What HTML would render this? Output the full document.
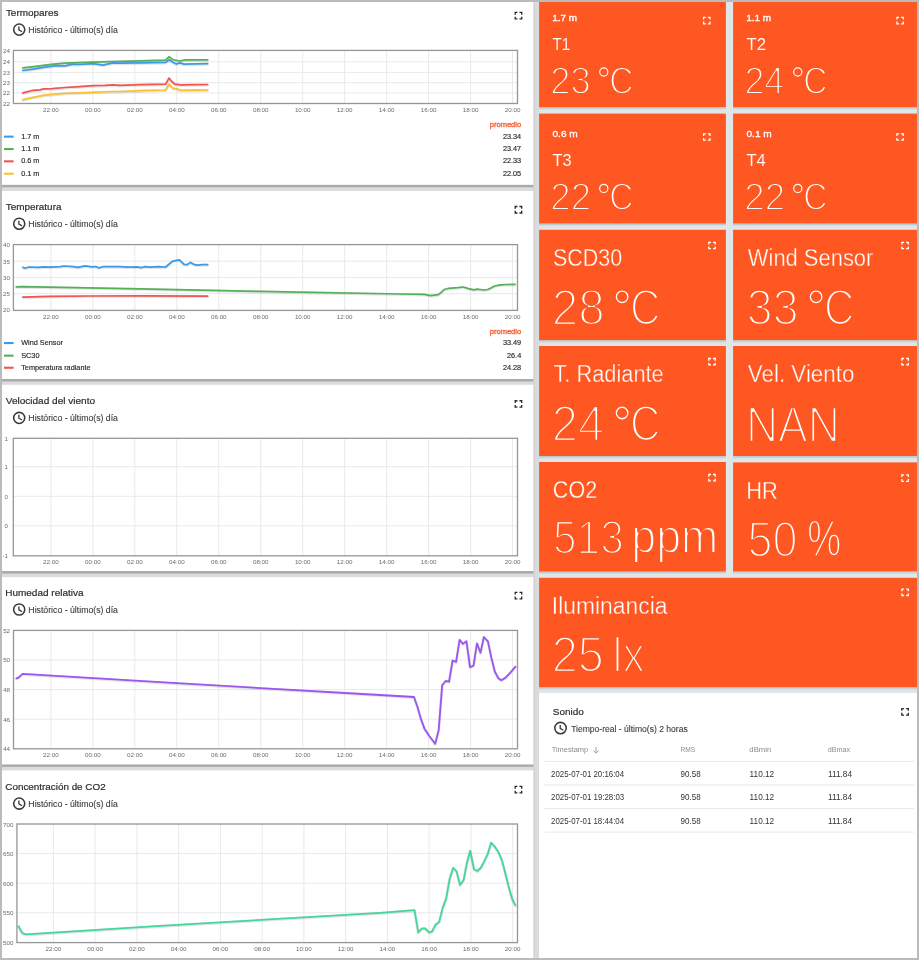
<!DOCTYPE html>
<html><head><meta charset="utf-8"><title>Dashboard</title>
<style>html,body{margin:0;padding:0;background:#bbbbbb;overflow:hidden}body{width:919px;height:960px;font-family:"Liberation Sans",sans-serif}svg{display:block;position:absolute;left:0;top:0;filter:blur(0.45px)}text{white-space:pre}</style></head>
<body>
<svg width="919" height="960" viewBox="0 0 919 960" font-family='"Liberation Sans", sans-serif'>
<rect x="0" y="0" width="919" height="960" fill="#e0e5e8" />
<rect x="533.3" y="0" width="5.8" height="960" fill="#dadbdc" />
<rect x="533.3" y="0" width="1.7" height="960" fill="#d3d3d3" />
<rect x="2" y="184.7" width="531.3" height="6.3" fill="#dcdcdc" />
<rect x="2" y="184.7" width="531.3" height="2.6" fill="#ababab" />
<rect x="2" y="0" width="531.3" height="184.7" fill="#fff" />
<text transform="translate(5.88,15.6) scale(1.0449,1)" font-size="9.53" fill="#2e2e2e" stroke="#2e2e2e" stroke-width="0.2">Termopares</text>
<circle cx="19.2" cy="29.6" r="5.55" fill="none" stroke="#3a3a3a" stroke-width="1.55"/>
<path d="M18.9,26.55 V29.9 L21.97,31.71" fill="none" stroke="#3a3a3a" stroke-width="1.32"/>
<text transform="translate(28.34,32.84) scale(0.9403,1)" font-size="9.28" fill="#3c3c3c" stroke="#3c3c3c" stroke-width="0.12">Histórico - último(s) día</text>
<path d="M515.21,14.64 V12.41 H517.44 M519.46,12.41 H521.69 V14.64 M521.69,16.66 V18.89 H519.46 M517.44,18.89 H515.21 V16.66" fill="none" stroke="#2a2a2a" stroke-width="1.33"/>
<rect x="2" y="378.9" width="531.3" height="6.3" fill="#dcdcdc" />
<rect x="2" y="378.9" width="531.3" height="2.6" fill="#ababab" />
<rect x="2" y="191" width="531.3" height="187.9" fill="#fff" />
<text transform="translate(5.78,209.7) scale(1.0420,1)" font-size="9.53" fill="#2e2e2e" stroke="#2e2e2e" stroke-width="0.2">Temperatura</text>
<circle cx="19.2" cy="223.7" r="5.55" fill="none" stroke="#3a3a3a" stroke-width="1.55"/>
<path d="M18.9,220.65 V224 L21.97,225.81" fill="none" stroke="#3a3a3a" stroke-width="1.32"/>
<text transform="translate(28.34,226.94) scale(0.9403,1)" font-size="9.28" fill="#3c3c3c" stroke="#3c3c3c" stroke-width="0.12">Histórico - último(s) día</text>
<path d="M515.21,208.74 V206.51 H517.44 M519.46,206.51 H521.69 V208.74 M521.69,210.76 V212.99 H519.46 M517.44,212.99 H515.21 V210.76" fill="none" stroke="#2a2a2a" stroke-width="1.33"/>
<rect x="2" y="571" width="531.3" height="6.3" fill="#dcdcdc" />
<rect x="2" y="571" width="531.3" height="2.6" fill="#ababab" />
<rect x="2" y="384.8" width="531.3" height="186.2" fill="#fff" />
<text transform="translate(5.76,403.9) scale(1.0542,1)" font-size="9.53" fill="#2e2e2e" stroke="#2e2e2e" stroke-width="0.2">Velocidad del viento</text>
<circle cx="19.2" cy="417.9" r="5.55" fill="none" stroke="#3a3a3a" stroke-width="1.55"/>
<path d="M18.9,414.85 V418.2 L21.97,420.01" fill="none" stroke="#3a3a3a" stroke-width="1.32"/>
<text transform="translate(28.34,421.14) scale(0.9403,1)" font-size="9.28" fill="#3c3c3c" stroke="#3c3c3c" stroke-width="0.12">Histórico - último(s) día</text>
<path d="M515.21,402.94 V400.71 H517.44 M519.46,400.71 H521.69 V402.94 M521.69,404.96 V407.19 H519.46 M517.44,407.19 H515.21 V404.96" fill="none" stroke="#2a2a2a" stroke-width="1.33"/>
<rect x="2" y="764.3" width="531.3" height="6.3" fill="#dcdcdc" />
<rect x="2" y="764.3" width="531.3" height="2.6" fill="#ababab" />
<rect x="2" y="577.2" width="531.3" height="187.1" fill="#fff" />
<text transform="translate(5.18,595.5) scale(1.0502,1)" font-size="9.53" fill="#2e2e2e" stroke="#2e2e2e" stroke-width="0.2">Humedad relativa</text>
<circle cx="19.2" cy="609.5" r="5.55" fill="none" stroke="#3a3a3a" stroke-width="1.55"/>
<path d="M18.9,606.45 V609.8 L21.97,611.61" fill="none" stroke="#3a3a3a" stroke-width="1.32"/>
<text transform="translate(28.34,612.74) scale(0.9403,1)" font-size="9.28" fill="#3c3c3c" stroke="#3c3c3c" stroke-width="0.12">Histórico - último(s) día</text>
<path d="M515.21,594.54 V592.31 H517.44 M519.46,592.31 H521.69 V594.54 M521.69,596.56 V598.79 H519.46 M517.44,598.79 H515.21 V596.56" fill="none" stroke="#2a2a2a" stroke-width="1.33"/>
<rect x="2" y="958" width="531.3" height="6.3" fill="#dcdcdc" />
<rect x="2" y="958" width="531.3" height="2.6" fill="#ababab" />
<rect x="2" y="770.5" width="531.3" height="187.5" fill="#fff" />
<text transform="translate(5.31,789.6) scale(1.0368,1)" font-size="9.53" fill="#2e2e2e" stroke="#2e2e2e" stroke-width="0.2">Concentración de CO2</text>
<circle cx="19.2" cy="803.6" r="5.55" fill="none" stroke="#3a3a3a" stroke-width="1.55"/>
<path d="M18.9,800.55 V803.9 L21.97,805.71" fill="none" stroke="#3a3a3a" stroke-width="1.32"/>
<text transform="translate(28.34,806.84) scale(0.9403,1)" font-size="9.28" fill="#3c3c3c" stroke="#3c3c3c" stroke-width="0.12">Histórico - último(s) día</text>
<path d="M515.21,788.64 V786.41 H517.44 M519.46,786.41 H521.69 V788.64 M521.69,790.66 V792.89 H519.46 M517.44,792.89 H515.21 V790.66" fill="none" stroke="#2a2a2a" stroke-width="1.33"/>
<line x1="13.4" y1="61.8" x2="517.5" y2="61.8" stroke="#e9e9e9" stroke-width="1" />
<line x1="13.4" y1="72.4" x2="517.5" y2="72.4" stroke="#e9e9e9" stroke-width="1" />
<line x1="13.4" y1="82.7" x2="517.5" y2="82.7" stroke="#e9e9e9" stroke-width="1" />
<line x1="13.4" y1="93" x2="517.5" y2="93" stroke="#e9e9e9" stroke-width="1" />
<line x1="50.9" y1="50.4" x2="50.9" y2="103.5" stroke="#e9e9e9" stroke-width="1" />
<text x="50.9" y="112" font-size="6.25" fill="#6a6a6a" text-anchor="middle" font-weight="normal" >22:00</text>
<line x1="92.87" y1="50.4" x2="92.87" y2="103.5" stroke="#e9e9e9" stroke-width="1" />
<text x="92.87" y="112" font-size="6.25" fill="#6a6a6a" text-anchor="middle" font-weight="normal" >00:00</text>
<line x1="134.84" y1="50.4" x2="134.84" y2="103.5" stroke="#e9e9e9" stroke-width="1" />
<text x="134.84" y="112" font-size="6.25" fill="#6a6a6a" text-anchor="middle" font-weight="normal" >02:00</text>
<line x1="176.81" y1="50.4" x2="176.81" y2="103.5" stroke="#e9e9e9" stroke-width="1" />
<text x="176.81" y="112" font-size="6.25" fill="#6a6a6a" text-anchor="middle" font-weight="normal" >04:00</text>
<line x1="218.78" y1="50.4" x2="218.78" y2="103.5" stroke="#e9e9e9" stroke-width="1" />
<text x="218.78" y="112" font-size="6.25" fill="#6a6a6a" text-anchor="middle" font-weight="normal" >06:00</text>
<line x1="260.75" y1="50.4" x2="260.75" y2="103.5" stroke="#e9e9e9" stroke-width="1" />
<text x="260.75" y="112" font-size="6.25" fill="#6a6a6a" text-anchor="middle" font-weight="normal" >08:00</text>
<line x1="302.72" y1="50.4" x2="302.72" y2="103.5" stroke="#e9e9e9" stroke-width="1" />
<text x="302.72" y="112" font-size="6.25" fill="#6a6a6a" text-anchor="middle" font-weight="normal" >10:00</text>
<line x1="344.69" y1="50.4" x2="344.69" y2="103.5" stroke="#e9e9e9" stroke-width="1" />
<text x="344.69" y="112" font-size="6.25" fill="#6a6a6a" text-anchor="middle" font-weight="normal" >12:00</text>
<line x1="386.66" y1="50.4" x2="386.66" y2="103.5" stroke="#e9e9e9" stroke-width="1" />
<text x="386.66" y="112" font-size="6.25" fill="#6a6a6a" text-anchor="middle" font-weight="normal" >14:00</text>
<line x1="428.63" y1="50.4" x2="428.63" y2="103.5" stroke="#e9e9e9" stroke-width="1" />
<text x="428.63" y="112" font-size="6.25" fill="#6a6a6a" text-anchor="middle" font-weight="normal" >16:00</text>
<line x1="470.6" y1="50.4" x2="470.6" y2="103.5" stroke="#e9e9e9" stroke-width="1" />
<text x="470.6" y="112" font-size="6.25" fill="#6a6a6a" text-anchor="middle" font-weight="normal" >18:00</text>
<line x1="512.57" y1="50.4" x2="512.57" y2="103.5" stroke="#e9e9e9" stroke-width="1" />
<text x="512.57" y="112" font-size="6.25" fill="#6a6a6a" text-anchor="middle" font-weight="normal" >20:00</text>
<text x="10" y="53.3" font-size="6.25" fill="#6a6a6a" text-anchor="end" font-weight="normal" >24</text>
<text x="10" y="64.1" font-size="6.25" fill="#6a6a6a" text-anchor="end" font-weight="normal" >24</text>
<text x="10" y="74.7" font-size="6.25" fill="#6a6a6a" text-anchor="end" font-weight="normal" >23</text>
<text x="10" y="85" font-size="6.25" fill="#6a6a6a" text-anchor="end" font-weight="normal" >23</text>
<text x="10" y="95.3" font-size="6.25" fill="#6a6a6a" text-anchor="end" font-weight="normal" >22</text>
<text x="10" y="105.5" font-size="6.25" fill="#6a6a6a" text-anchor="end" font-weight="normal" >22</text>
<rect x="13.4" y="50.4" width="504.1" height="53.1" fill="none" stroke="#969696" stroke-width="1.3"/>
<polyline points="22.9,99.7 33,97.4 45,95.1 55,94.1 65,93.3 80,92.8 93,92.3 113,91.5 120,91.5 140,90.7 165.7,90 169,84.2 171,86.5 173.3,88.4 177.1,88.8 180.2,90.3 195,90.2 207.6,90" fill="none" stroke="#000" stroke-opacity="0.10" stroke-width="2.9" stroke-linejoin="round" stroke-linecap="round" transform="translate(0,0.6)"/>
<polyline points="22.9,99.7 33,97.4 45,95.1 55,94.1 65,93.3 80,92.8 93,92.3 113,91.5 120,91.5 140,90.7 165.7,90 169,84.2 171,86.5 173.3,88.4 177.1,88.8 180.2,90.3 195,90.2 207.6,90" fill="none" stroke="#fbc22e" stroke-width="1.7" stroke-linejoin="round" stroke-linecap="round"/>
<polyline points="22.9,92.9 33,90.3 40,89.9 44,88.8 52,88.6 65,87.5 80,86.6 93,85.7 105,85.4 113,84.9 120,85.4 140,84.7 165.7,84.2 169,78.1 171.5,81.2 174.8,84.2 180.9,84.9 195,84.6 207.6,84.5" fill="none" stroke="#000" stroke-opacity="0.10" stroke-width="2.9" stroke-linejoin="round" stroke-linecap="round" transform="translate(0,0.6)"/>
<polyline points="22.9,92.9 33,90.3 40,89.9 44,88.8 52,88.6 65,87.5 80,86.6 93,85.7 105,85.4 113,84.9 120,85.4 140,84.7 165.7,84.2 169,78.1 171.5,81.2 174.8,84.2 180.9,84.9 195,84.6 207.6,84.5" fill="none" stroke="#ef5552" stroke-width="1.7" stroke-linejoin="round" stroke-linecap="round"/>
<polyline points="22.9,67.9 36,66.3 51.3,64.4 65,63.2 80,62.6 93,62.2 110,61.6 120,61.3 140,60.8 165.7,60.1 169,56.8 172.6,59.5 179.4,61 185.5,59.8 196,59.9 207.6,59.8" fill="none" stroke="#000" stroke-opacity="0.10" stroke-width="2.9" stroke-linejoin="round" stroke-linecap="round" transform="translate(0,0.6)"/>
<polyline points="22.9,67.9 36,66.3 51.3,64.4 65,63.2 80,62.6 93,62.2 110,61.6 120,61.3 140,60.8 165.7,60.1 169,56.8 172.6,59.5 179.4,61 185.5,59.8 196,59.9 207.6,59.8" fill="none" stroke="#55b05a" stroke-width="1.7" stroke-linejoin="round" stroke-linecap="round"/>
<polyline points="22.9,70.5 33,69.2 45,67.1 57,65.6 65,65.9 72,64.4 80,64.5 93,63.6 103,65.1 113,62.9 120,63.2 140,62.9 165.7,62.4 169,59.8 172.5,62 176.4,63.9 180.2,62.9 184,64.1 196,63.9 207.6,63.6" fill="none" stroke="#000" stroke-opacity="0.10" stroke-width="2.9" stroke-linejoin="round" stroke-linecap="round" transform="translate(0,0.6)"/>
<polyline points="22.9,70.5 33,69.2 45,67.1 57,65.6 65,65.9 72,64.4 80,64.5 93,63.6 103,65.1 113,62.9 120,63.2 140,62.9 165.7,62.4 169,59.8 172.5,62 176.4,63.9 180.2,62.9 184,64.1 196,63.9 207.6,63.6" fill="none" stroke="#3c9be9" stroke-width="1.7" stroke-linejoin="round" stroke-linecap="round"/>
<text x="521.2" y="127.2" font-size="7.55" fill="#f4693f" text-anchor="end" font-weight="normal" stroke="#f4693f" stroke-width="0.4">promedio</text>
<rect x="4" y="135.6" width="9.6" height="2.1" fill="#3c9be9" />
<text x="21.2" y="138.7" font-size="7.3" fill="#2a2a2a" text-anchor="start" font-weight="normal" stroke="#2a2a2a" stroke-width="0.15">1.7 m</text>
<text x="521.2" y="138.7" font-size="7.3" fill="#2a2a2a" text-anchor="end" font-weight="normal" stroke="#2a2a2a" stroke-width="0.15">23.34</text>
<rect x="4" y="148" width="9.6" height="2.1" fill="#55b05a" />
<text x="21.2" y="151.1" font-size="7.3" fill="#2a2a2a" text-anchor="start" font-weight="normal" stroke="#2a2a2a" stroke-width="0.15">1.1 m</text>
<text x="521.2" y="151.1" font-size="7.3" fill="#2a2a2a" text-anchor="end" font-weight="normal" stroke="#2a2a2a" stroke-width="0.15">23.47</text>
<rect x="4" y="160.3" width="9.6" height="2.1" fill="#ef5552" />
<text x="21.2" y="163.4" font-size="7.3" fill="#2a2a2a" text-anchor="start" font-weight="normal" stroke="#2a2a2a" stroke-width="0.15">0.6 m</text>
<text x="521.2" y="163.4" font-size="7.3" fill="#2a2a2a" text-anchor="end" font-weight="normal" stroke="#2a2a2a" stroke-width="0.15">22.33</text>
<rect x="4" y="172.7" width="9.6" height="2.1" fill="#fbc22e" />
<text x="21.2" y="175.8" font-size="7.3" fill="#2a2a2a" text-anchor="start" font-weight="normal" stroke="#2a2a2a" stroke-width="0.15">0.1 m</text>
<text x="521.2" y="175.8" font-size="7.3" fill="#2a2a2a" text-anchor="end" font-weight="normal" stroke="#2a2a2a" stroke-width="0.15">22.05</text>
<line x1="13.4" y1="261.2" x2="517.5" y2="261.2" stroke="#e9e9e9" stroke-width="1" />
<line x1="13.4" y1="277.4" x2="517.5" y2="277.4" stroke="#e9e9e9" stroke-width="1" />
<line x1="13.4" y1="293.7" x2="517.5" y2="293.7" stroke="#e9e9e9" stroke-width="1" />
<line x1="50.9" y1="244.6" x2="50.9" y2="310.4" stroke="#e9e9e9" stroke-width="1" />
<text x="50.9" y="318.9" font-size="6.25" fill="#6a6a6a" text-anchor="middle" font-weight="normal" >22:00</text>
<line x1="92.87" y1="244.6" x2="92.87" y2="310.4" stroke="#e9e9e9" stroke-width="1" />
<text x="92.87" y="318.9" font-size="6.25" fill="#6a6a6a" text-anchor="middle" font-weight="normal" >00:00</text>
<line x1="134.84" y1="244.6" x2="134.84" y2="310.4" stroke="#e9e9e9" stroke-width="1" />
<text x="134.84" y="318.9" font-size="6.25" fill="#6a6a6a" text-anchor="middle" font-weight="normal" >02:00</text>
<line x1="176.81" y1="244.6" x2="176.81" y2="310.4" stroke="#e9e9e9" stroke-width="1" />
<text x="176.81" y="318.9" font-size="6.25" fill="#6a6a6a" text-anchor="middle" font-weight="normal" >04:00</text>
<line x1="218.78" y1="244.6" x2="218.78" y2="310.4" stroke="#e9e9e9" stroke-width="1" />
<text x="218.78" y="318.9" font-size="6.25" fill="#6a6a6a" text-anchor="middle" font-weight="normal" >06:00</text>
<line x1="260.75" y1="244.6" x2="260.75" y2="310.4" stroke="#e9e9e9" stroke-width="1" />
<text x="260.75" y="318.9" font-size="6.25" fill="#6a6a6a" text-anchor="middle" font-weight="normal" >08:00</text>
<line x1="302.72" y1="244.6" x2="302.72" y2="310.4" stroke="#e9e9e9" stroke-width="1" />
<text x="302.72" y="318.9" font-size="6.25" fill="#6a6a6a" text-anchor="middle" font-weight="normal" >10:00</text>
<line x1="344.69" y1="244.6" x2="344.69" y2="310.4" stroke="#e9e9e9" stroke-width="1" />
<text x="344.69" y="318.9" font-size="6.25" fill="#6a6a6a" text-anchor="middle" font-weight="normal" >12:00</text>
<line x1="386.66" y1="244.6" x2="386.66" y2="310.4" stroke="#e9e9e9" stroke-width="1" />
<text x="386.66" y="318.9" font-size="6.25" fill="#6a6a6a" text-anchor="middle" font-weight="normal" >14:00</text>
<line x1="428.63" y1="244.6" x2="428.63" y2="310.4" stroke="#e9e9e9" stroke-width="1" />
<text x="428.63" y="318.9" font-size="6.25" fill="#6a6a6a" text-anchor="middle" font-weight="normal" >16:00</text>
<line x1="470.6" y1="244.6" x2="470.6" y2="310.4" stroke="#e9e9e9" stroke-width="1" />
<text x="470.6" y="318.9" font-size="6.25" fill="#6a6a6a" text-anchor="middle" font-weight="normal" >18:00</text>
<line x1="512.57" y1="244.6" x2="512.57" y2="310.4" stroke="#e9e9e9" stroke-width="1" />
<text x="512.57" y="318.9" font-size="6.25" fill="#6a6a6a" text-anchor="middle" font-weight="normal" >20:00</text>
<text x="10" y="247.2" font-size="6.25" fill="#6a6a6a" text-anchor="end" font-weight="normal" >40</text>
<text x="10" y="263.5" font-size="6.25" fill="#6a6a6a" text-anchor="end" font-weight="normal" >35</text>
<text x="10" y="279.7" font-size="6.25" fill="#6a6a6a" text-anchor="end" font-weight="normal" >30</text>
<text x="10" y="296" font-size="6.25" fill="#6a6a6a" text-anchor="end" font-weight="normal" >25</text>
<text x="10" y="312.4" font-size="6.25" fill="#6a6a6a" text-anchor="end" font-weight="normal" >20</text>
<rect x="13.4" y="244.6" width="504.1" height="65.8" fill="none" stroke="#969696" stroke-width="1.3"/>
<polyline points="22.9,297.2 50,296.4 90,296 140,295.9 207.6,296.2" fill="none" stroke="#000" stroke-opacity="0.10" stroke-width="2.9" stroke-linejoin="round" stroke-linecap="round" transform="translate(0,0.6)"/>
<polyline points="22.9,297.2 50,296.4 90,296 140,295.9 207.6,296.2" fill="none" stroke="#ef5552" stroke-width="1.7" stroke-linejoin="round" stroke-linecap="round"/>
<polyline points="16.3,286.8 22,286.6 140,288.8 260,291.4 400,294 424.4,294.4 430.5,295.6 438.1,294.7 441,292.6 444.2,289.5 448.8,288.3 457.9,287.7 463.2,287 468.6,288.6 473.9,289.8 476.9,289.2 483.8,290 487.6,289.5 491,288 494.5,286 500.5,284.8 507,284.5 515,284.4" fill="none" stroke="#000" stroke-opacity="0.10" stroke-width="2.9" stroke-linejoin="round" stroke-linecap="round" transform="translate(0,0.6)"/>
<polyline points="16.3,286.8 22,286.6 140,288.8 260,291.4 400,294 424.4,294.4 430.5,295.6 438.1,294.7 441,292.6 444.2,289.5 448.8,288.3 457.9,287.7 463.2,287 468.6,288.6 473.9,289.8 476.9,289.2 483.8,290 487.6,289.5 491,288 494.5,286 500.5,284.8 507,284.5 515,284.4" fill="none" stroke="#55b05a" stroke-width="1.7" stroke-linejoin="round" stroke-linecap="round"/>
<polyline points="22.9,267.3 25,268.2 29,267 38,267.4 44,266.8 50,267.2 60,266.7 65,266 73,266.6 78,267.4 85,265.9 92,266.8 96,266.5 99,267.9 103,266.7 120,266.7 128,267.2 137,266.8 141.3,267.7 145,266.6 150,267.2 158,266.6 165.7,267 172.6,261.2 179.4,259.8 184,264.3 187,264.7 190.4,262.4 194.6,264.7 197.7,265.2 202.3,264.6 207.6,264.7" fill="none" stroke="#000" stroke-opacity="0.10" stroke-width="2.9" stroke-linejoin="round" stroke-linecap="round" transform="translate(0,0.6)"/>
<polyline points="22.9,267.3 25,268.2 29,267 38,267.4 44,266.8 50,267.2 60,266.7 65,266 73,266.6 78,267.4 85,265.9 92,266.8 96,266.5 99,267.9 103,266.7 120,266.7 128,267.2 137,266.8 141.3,267.7 145,266.6 150,267.2 158,266.6 165.7,267 172.6,261.2 179.4,259.8 184,264.3 187,264.7 190.4,262.4 194.6,264.7 197.7,265.2 202.3,264.6 207.6,264.7" fill="none" stroke="#3c9be9" stroke-width="1.7" stroke-linejoin="round" stroke-linecap="round"/>
<text x="521.2" y="333.9" font-size="7.55" fill="#f4693f" text-anchor="end" font-weight="normal" stroke="#f4693f" stroke-width="0.4">promedio</text>
<rect x="4" y="342" width="9.6" height="2.1" fill="#3c9be9" />
<text x="21.2" y="345.1" font-size="7.3" fill="#2a2a2a" text-anchor="start" font-weight="normal" stroke="#2a2a2a" stroke-width="0.15">Wind Sensor</text>
<text x="521.2" y="345.1" font-size="7.3" fill="#2a2a2a" text-anchor="end" font-weight="normal" stroke="#2a2a2a" stroke-width="0.15">33.49</text>
<rect x="4" y="354.6" width="9.6" height="2.1" fill="#55b05a" />
<text x="21.2" y="357.7" font-size="7.3" fill="#2a2a2a" text-anchor="start" font-weight="normal" stroke="#2a2a2a" stroke-width="0.15">SC30</text>
<text x="521.2" y="357.7" font-size="7.3" fill="#2a2a2a" text-anchor="end" font-weight="normal" stroke="#2a2a2a" stroke-width="0.15">26.4</text>
<rect x="4" y="366.7" width="9.6" height="2.1" fill="#ef5552" />
<text x="21.2" y="369.8" font-size="7.3" fill="#2a2a2a" text-anchor="start" font-weight="normal" stroke="#2a2a2a" stroke-width="0.15">Temperatura radiante</text>
<text x="521.2" y="369.8" font-size="7.3" fill="#2a2a2a" text-anchor="end" font-weight="normal" stroke="#2a2a2a" stroke-width="0.15">24.28</text>
<line x1="13.3" y1="466.7" x2="517.5" y2="466.7" stroke="#e9e9e9" stroke-width="1" />
<line x1="13.3" y1="496.3" x2="517.5" y2="496.3" stroke="#e9e9e9" stroke-width="1" />
<line x1="13.3" y1="525.8" x2="517.5" y2="525.8" stroke="#e9e9e9" stroke-width="1" />
<line x1="50.9" y1="438.3" x2="50.9" y2="555.8" stroke="#e9e9e9" stroke-width="1" />
<text x="50.9" y="564.3" font-size="6.25" fill="#6a6a6a" text-anchor="middle" font-weight="normal" >22:00</text>
<line x1="92.87" y1="438.3" x2="92.87" y2="555.8" stroke="#e9e9e9" stroke-width="1" />
<text x="92.87" y="564.3" font-size="6.25" fill="#6a6a6a" text-anchor="middle" font-weight="normal" >00:00</text>
<line x1="134.84" y1="438.3" x2="134.84" y2="555.8" stroke="#e9e9e9" stroke-width="1" />
<text x="134.84" y="564.3" font-size="6.25" fill="#6a6a6a" text-anchor="middle" font-weight="normal" >02:00</text>
<line x1="176.81" y1="438.3" x2="176.81" y2="555.8" stroke="#e9e9e9" stroke-width="1" />
<text x="176.81" y="564.3" font-size="6.25" fill="#6a6a6a" text-anchor="middle" font-weight="normal" >04:00</text>
<line x1="218.78" y1="438.3" x2="218.78" y2="555.8" stroke="#e9e9e9" stroke-width="1" />
<text x="218.78" y="564.3" font-size="6.25" fill="#6a6a6a" text-anchor="middle" font-weight="normal" >06:00</text>
<line x1="260.75" y1="438.3" x2="260.75" y2="555.8" stroke="#e9e9e9" stroke-width="1" />
<text x="260.75" y="564.3" font-size="6.25" fill="#6a6a6a" text-anchor="middle" font-weight="normal" >08:00</text>
<line x1="302.72" y1="438.3" x2="302.72" y2="555.8" stroke="#e9e9e9" stroke-width="1" />
<text x="302.72" y="564.3" font-size="6.25" fill="#6a6a6a" text-anchor="middle" font-weight="normal" >10:00</text>
<line x1="344.69" y1="438.3" x2="344.69" y2="555.8" stroke="#e9e9e9" stroke-width="1" />
<text x="344.69" y="564.3" font-size="6.25" fill="#6a6a6a" text-anchor="middle" font-weight="normal" >12:00</text>
<line x1="386.66" y1="438.3" x2="386.66" y2="555.8" stroke="#e9e9e9" stroke-width="1" />
<text x="386.66" y="564.3" font-size="6.25" fill="#6a6a6a" text-anchor="middle" font-weight="normal" >14:00</text>
<line x1="428.63" y1="438.3" x2="428.63" y2="555.8" stroke="#e9e9e9" stroke-width="1" />
<text x="428.63" y="564.3" font-size="6.25" fill="#6a6a6a" text-anchor="middle" font-weight="normal" >16:00</text>
<line x1="470.6" y1="438.3" x2="470.6" y2="555.8" stroke="#e9e9e9" stroke-width="1" />
<text x="470.6" y="564.3" font-size="6.25" fill="#6a6a6a" text-anchor="middle" font-weight="normal" >18:00</text>
<line x1="512.57" y1="438.3" x2="512.57" y2="555.8" stroke="#e9e9e9" stroke-width="1" />
<text x="512.57" y="564.3" font-size="6.25" fill="#6a6a6a" text-anchor="middle" font-weight="normal" >20:00</text>
<text x="8" y="440.9" font-size="6.25" fill="#6a6a6a" text-anchor="end" font-weight="normal" >1</text>
<text x="8" y="469" font-size="6.25" fill="#6a6a6a" text-anchor="end" font-weight="normal" >1</text>
<text x="8" y="498.6" font-size="6.25" fill="#6a6a6a" text-anchor="end" font-weight="normal" >0</text>
<text x="8" y="528.1" font-size="6.25" fill="#6a6a6a" text-anchor="end" font-weight="normal" >0</text>
<text x="8" y="557.8" font-size="6.25" fill="#6a6a6a" text-anchor="end" font-weight="normal" >-1</text>
<rect x="13.3" y="438.3" width="504.2" height="117.5" fill="none" stroke="#969696" stroke-width="1.3"/>
<line x1="13.5" y1="660.1" x2="517.5" y2="660.1" stroke="#e9e9e9" stroke-width="1" />
<line x1="13.5" y1="689.6" x2="517.5" y2="689.6" stroke="#e9e9e9" stroke-width="1" />
<line x1="13.5" y1="719.2" x2="517.5" y2="719.2" stroke="#e9e9e9" stroke-width="1" />
<line x1="50.9" y1="630.4" x2="50.9" y2="748.8" stroke="#e9e9e9" stroke-width="1" />
<text x="50.9" y="757.3" font-size="6.25" fill="#6a6a6a" text-anchor="middle" font-weight="normal" >22:00</text>
<line x1="92.87" y1="630.4" x2="92.87" y2="748.8" stroke="#e9e9e9" stroke-width="1" />
<text x="92.87" y="757.3" font-size="6.25" fill="#6a6a6a" text-anchor="middle" font-weight="normal" >00:00</text>
<line x1="134.84" y1="630.4" x2="134.84" y2="748.8" stroke="#e9e9e9" stroke-width="1" />
<text x="134.84" y="757.3" font-size="6.25" fill="#6a6a6a" text-anchor="middle" font-weight="normal" >02:00</text>
<line x1="176.81" y1="630.4" x2="176.81" y2="748.8" stroke="#e9e9e9" stroke-width="1" />
<text x="176.81" y="757.3" font-size="6.25" fill="#6a6a6a" text-anchor="middle" font-weight="normal" >04:00</text>
<line x1="218.78" y1="630.4" x2="218.78" y2="748.8" stroke="#e9e9e9" stroke-width="1" />
<text x="218.78" y="757.3" font-size="6.25" fill="#6a6a6a" text-anchor="middle" font-weight="normal" >06:00</text>
<line x1="260.75" y1="630.4" x2="260.75" y2="748.8" stroke="#e9e9e9" stroke-width="1" />
<text x="260.75" y="757.3" font-size="6.25" fill="#6a6a6a" text-anchor="middle" font-weight="normal" >08:00</text>
<line x1="302.72" y1="630.4" x2="302.72" y2="748.8" stroke="#e9e9e9" stroke-width="1" />
<text x="302.72" y="757.3" font-size="6.25" fill="#6a6a6a" text-anchor="middle" font-weight="normal" >10:00</text>
<line x1="344.69" y1="630.4" x2="344.69" y2="748.8" stroke="#e9e9e9" stroke-width="1" />
<text x="344.69" y="757.3" font-size="6.25" fill="#6a6a6a" text-anchor="middle" font-weight="normal" >12:00</text>
<line x1="386.66" y1="630.4" x2="386.66" y2="748.8" stroke="#e9e9e9" stroke-width="1" />
<text x="386.66" y="757.3" font-size="6.25" fill="#6a6a6a" text-anchor="middle" font-weight="normal" >14:00</text>
<line x1="428.63" y1="630.4" x2="428.63" y2="748.8" stroke="#e9e9e9" stroke-width="1" />
<text x="428.63" y="757.3" font-size="6.25" fill="#6a6a6a" text-anchor="middle" font-weight="normal" >16:00</text>
<line x1="470.6" y1="630.4" x2="470.6" y2="748.8" stroke="#e9e9e9" stroke-width="1" />
<text x="470.6" y="757.3" font-size="6.25" fill="#6a6a6a" text-anchor="middle" font-weight="normal" >18:00</text>
<line x1="512.57" y1="630.4" x2="512.57" y2="748.8" stroke="#e9e9e9" stroke-width="1" />
<text x="512.57" y="757.3" font-size="6.25" fill="#6a6a6a" text-anchor="middle" font-weight="normal" >20:00</text>
<text x="10.1" y="633" font-size="6.25" fill="#6a6a6a" text-anchor="end" font-weight="normal" >52</text>
<text x="10.1" y="662.4" font-size="6.25" fill="#6a6a6a" text-anchor="end" font-weight="normal" >50</text>
<text x="10.1" y="691.9" font-size="6.25" fill="#6a6a6a" text-anchor="end" font-weight="normal" >48</text>
<text x="10.1" y="721.5" font-size="6.25" fill="#6a6a6a" text-anchor="end" font-weight="normal" >46</text>
<text x="10.1" y="750.8" font-size="6.25" fill="#6a6a6a" text-anchor="end" font-weight="normal" >44</text>
<rect x="13.5" y="630.4" width="504" height="118.4" fill="none" stroke="#969696" stroke-width="1.3"/>
<polyline points="16.5,678.4 18.5,677.6 22.6,673.9 160,682.2 380,695 414,697 417.5,707 420.9,718.8 424.4,728.4 429,735.5 435.2,743.7 438.7,730.1 440.4,708 442.2,685.2 445.6,681 449.1,681.7 452.6,660.5 456.1,661.9 459.6,639.9 463,643.9 466.5,641.3 470,667.1 473.5,665.7 477,643.4 480.5,652.7 483.9,637 487.9,641.3 491.4,657.9 494.9,671.8 498.4,678.2 501.3,680.2 505.3,677.9 510.6,672.3 515.4,666.6" fill="none" stroke="#000" stroke-opacity="0.10" stroke-width="3" stroke-linejoin="round" stroke-linecap="round" transform="translate(0,0.6)"/>
<polyline points="16.5,678.4 18.5,677.6 22.6,673.9 160,682.2 380,695 414,697 417.5,707 420.9,718.8 424.4,728.4 429,735.5 435.2,743.7 438.7,730.1 440.4,708 442.2,685.2 445.6,681 449.1,681.7 452.6,660.5 456.1,661.9 459.6,639.9 463,643.9 466.5,641.3 470,667.1 473.5,665.7 477,643.4 480.5,652.7 483.9,637 487.9,641.3 491.4,657.9 494.9,671.8 498.4,678.2 501.3,680.2 505.3,677.9 510.6,672.3 515.4,666.6" fill="none" stroke="#9a55f2" stroke-width="1.8" stroke-linejoin="round" stroke-linecap="round"/>
<line x1="16.9" y1="853.4" x2="517.5" y2="853.4" stroke="#e9e9e9" stroke-width="1" />
<line x1="16.9" y1="883.2" x2="517.5" y2="883.2" stroke="#e9e9e9" stroke-width="1" />
<line x1="16.9" y1="912.8" x2="517.5" y2="912.8" stroke="#e9e9e9" stroke-width="1" />
<line x1="53.4" y1="824" x2="53.4" y2="942.6" stroke="#e9e9e9" stroke-width="1" />
<text x="53.4" y="951.1" font-size="6.25" fill="#6a6a6a" text-anchor="middle" font-weight="normal" >22:00</text>
<line x1="95.15" y1="824" x2="95.15" y2="942.6" stroke="#e9e9e9" stroke-width="1" />
<text x="95.15" y="951.1" font-size="6.25" fill="#6a6a6a" text-anchor="middle" font-weight="normal" >00:00</text>
<line x1="136.9" y1="824" x2="136.9" y2="942.6" stroke="#e9e9e9" stroke-width="1" />
<text x="136.9" y="951.1" font-size="6.25" fill="#6a6a6a" text-anchor="middle" font-weight="normal" >02:00</text>
<line x1="178.65" y1="824" x2="178.65" y2="942.6" stroke="#e9e9e9" stroke-width="1" />
<text x="178.65" y="951.1" font-size="6.25" fill="#6a6a6a" text-anchor="middle" font-weight="normal" >04:00</text>
<line x1="220.4" y1="824" x2="220.4" y2="942.6" stroke="#e9e9e9" stroke-width="1" />
<text x="220.4" y="951.1" font-size="6.25" fill="#6a6a6a" text-anchor="middle" font-weight="normal" >06:00</text>
<line x1="262.15" y1="824" x2="262.15" y2="942.6" stroke="#e9e9e9" stroke-width="1" />
<text x="262.15" y="951.1" font-size="6.25" fill="#6a6a6a" text-anchor="middle" font-weight="normal" >08:00</text>
<line x1="303.9" y1="824" x2="303.9" y2="942.6" stroke="#e9e9e9" stroke-width="1" />
<text x="303.9" y="951.1" font-size="6.25" fill="#6a6a6a" text-anchor="middle" font-weight="normal" >10:00</text>
<line x1="345.65" y1="824" x2="345.65" y2="942.6" stroke="#e9e9e9" stroke-width="1" />
<text x="345.65" y="951.1" font-size="6.25" fill="#6a6a6a" text-anchor="middle" font-weight="normal" >12:00</text>
<line x1="387.4" y1="824" x2="387.4" y2="942.6" stroke="#e9e9e9" stroke-width="1" />
<text x="387.4" y="951.1" font-size="6.25" fill="#6a6a6a" text-anchor="middle" font-weight="normal" >14:00</text>
<line x1="429.15" y1="824" x2="429.15" y2="942.6" stroke="#e9e9e9" stroke-width="1" />
<text x="429.15" y="951.1" font-size="6.25" fill="#6a6a6a" text-anchor="middle" font-weight="normal" >16:00</text>
<line x1="470.9" y1="824" x2="470.9" y2="942.6" stroke="#e9e9e9" stroke-width="1" />
<text x="470.9" y="951.1" font-size="6.25" fill="#6a6a6a" text-anchor="middle" font-weight="normal" >18:00</text>
<line x1="512.65" y1="824" x2="512.65" y2="942.6" stroke="#e9e9e9" stroke-width="1" />
<text x="512.65" y="951.1" font-size="6.25" fill="#6a6a6a" text-anchor="middle" font-weight="normal" >20:00</text>
<text x="13.5" y="826.6" font-size="6.25" fill="#6a6a6a" text-anchor="end" font-weight="normal" >700</text>
<text x="13.5" y="855.7" font-size="6.25" fill="#6a6a6a" text-anchor="end" font-weight="normal" >650</text>
<text x="13.5" y="885.5" font-size="6.25" fill="#6a6a6a" text-anchor="end" font-weight="normal" >600</text>
<text x="13.5" y="915.1" font-size="6.25" fill="#6a6a6a" text-anchor="end" font-weight="normal" >550</text>
<text x="13.5" y="944.6" font-size="6.25" fill="#6a6a6a" text-anchor="end" font-weight="normal" >500</text>
<rect x="16.9" y="824" width="500.6" height="118.6" fill="none" stroke="#969696" stroke-width="1.3"/>
<polyline points="18.6,926.2 20.5,930 22.6,933.2 26.1,934.4 160,925.9 380,912.8 414.5,910.2 418.3,932.3 421.8,928.5 425.3,928.5 429.1,932.3 432.2,931.4 435.7,924.5 439.2,921.9 442.7,907.9 446.2,898.4 449.6,879.2 453.1,867.9 456.6,871.4 460.1,885 463.6,880.1 467,862.7 470.2,850.8 474,869.3 477.5,871 481,867.5 484.5,860.9 487.9,853.6 491.1,842.7 494.9,846.7 498.4,851.9 501.9,860.1 505.3,873.1 508.8,887 512.3,899.2 515.4,905.3" fill="none" stroke="#000" stroke-opacity="0.10" stroke-width="3" stroke-linejoin="round" stroke-linecap="round" transform="translate(0,0.6)"/>
<polyline points="18.6,926.2 20.5,930 22.6,933.2 26.1,934.4 160,925.9 380,912.8 414.5,910.2 418.3,932.3 421.8,928.5 425.3,928.5 429.1,932.3 432.2,931.4 435.7,924.5 439.2,921.9 442.7,907.9 446.2,898.4 449.6,879.2 453.1,867.9 456.6,871.4 460.1,885 463.6,880.1 467,862.7 470.2,850.8 474,869.3 477.5,871 481,867.5 484.5,860.9 487.9,853.6 491.1,842.7 494.9,846.7 498.4,851.9 501.9,860.1 505.3,873.1 508.8,887 512.3,899.2 515.4,905.3" fill="none" stroke="#43d79a" stroke-width="1.8" stroke-linejoin="round" stroke-linecap="round"/>
<rect x="539.1" y="107.1" width="186.8" height="2.4" fill="#d2d9dc" />
<rect x="539.1" y="107.1" width="186.8" height="1.3" fill="#bfc8cc" />
<rect x="539.1" y="0" width="186.8" height="107.1" fill="#fe5722" />
<text transform="translate(552.13,20.54) scale(1.1099,1)" font-size="8.99" fill="#fff" stroke="#fff" stroke-width="0.32">1.7 m</text>
<text transform="translate(552.51,49.55) scale(0.9034,1)" font-size="16.87" fill="#fff" stroke="#fe5722" stroke-width="0.1">T1</text>
<text transform="translate(550.35,93.9) scale(0.9248,1)" font-size="39.28" fill="#fff" stroke="#fe5722" stroke-width="1.8">23</text>
<circle cx="603.8" cy="72" r="4.08" fill="none" stroke="#fff" stroke-width="1.15"/>
<text transform="translate(609.26,93.9) scale(0.8505,1)" font-size="39.28" fill="#fff" stroke="#fe5722" stroke-width="1.8">C</text>
<path d="M703.6,19.6 V17.4 H705.8 M707.8,17.4 H710 V19.6 M710,21.6 V23.8 H707.8 M705.8,23.8 H703.6 V21.6" fill="none" stroke="#fff" stroke-width="1.31"/>
<rect x="733.1" y="107.1" width="183.9" height="2.4" fill="#d2d9dc" />
<rect x="733.1" y="107.1" width="183.9" height="1.3" fill="#bfc8cc" />
<rect x="733.1" y="0" width="183.9" height="107.1" fill="#fe5722" />
<text transform="translate(746.13,20.54) scale(1.1099,1)" font-size="8.99" fill="#fff" stroke="#fff" stroke-width="0.32">1.1 m</text>
<text transform="translate(746.48,49.55) scale(0.9873,1)" font-size="16.87" fill="#fff" stroke="#fe5722" stroke-width="0.1">T2</text>
<text transform="translate(744.39,93.9) scale(0.9107,1)" font-size="39.28" fill="#fff" stroke="#fe5722" stroke-width="1.8">24</text>
<circle cx="797.8" cy="72" r="4.08" fill="none" stroke="#fff" stroke-width="1.15"/>
<text transform="translate(803.26,93.9) scale(0.8505,1)" font-size="39.28" fill="#fff" stroke="#fe5722" stroke-width="1.8">C</text>
<path d="M896.9,19.6 V17.4 H899.1 M901.1,17.4 H903.3 V19.6 M903.3,21.6 V23.8 H901.1 M899.1,23.8 H896.9 V21.6" fill="none" stroke="#fff" stroke-width="1.31"/>
<rect x="539.1" y="223.5" width="186.8" height="2.4" fill="#d2d9dc" />
<rect x="539.1" y="223.5" width="186.8" height="1.3" fill="#bfc8cc" />
<rect x="539.1" y="113.6" width="186.8" height="109.9" fill="#fe5722" />
<text transform="translate(552.48,136.94) scale(1.1259,1)" font-size="8.99" fill="#fff" stroke="#fff" stroke-width="0.32">0.6 m</text>
<text transform="translate(552.48,165.95) scale(0.9697,1)" font-size="16.87" fill="#fff" stroke="#fe5722" stroke-width="0.1">T3</text>
<text transform="translate(550.33,210.3) scale(0.9320,1)" font-size="39.28" fill="#fff" stroke="#fe5722" stroke-width="1.8">22</text>
<circle cx="603.8" cy="188.4" r="4.08" fill="none" stroke="#fff" stroke-width="1.15"/>
<text transform="translate(609.26,210.3) scale(0.8505,1)" font-size="39.28" fill="#fff" stroke="#fe5722" stroke-width="1.8">C</text>
<path d="M703.6,136 V133.8 H705.8 M707.8,133.8 H710 V136 M710,138 V140.2 H707.8 M705.8,140.2 H703.6 V138" fill="none" stroke="#fff" stroke-width="1.31"/>
<rect x="733.1" y="223.5" width="183.9" height="2.4" fill="#d2d9dc" />
<rect x="733.1" y="223.5" width="183.9" height="1.3" fill="#bfc8cc" />
<rect x="733.1" y="113.6" width="183.9" height="109.9" fill="#fe5722" />
<text transform="translate(746.48,136.94) scale(1.1259,1)" font-size="8.99" fill="#fff" stroke="#fff" stroke-width="0.32">0.1 m</text>
<text transform="translate(746.48,165.95) scale(0.9833,1)" font-size="16.87" fill="#fff" stroke="#fe5722" stroke-width="0.1">T4</text>
<text transform="translate(744.33,210.3) scale(0.9320,1)" font-size="39.28" fill="#fff" stroke="#fe5722" stroke-width="1.8">22</text>
<circle cx="797.8" cy="188.4" r="4.08" fill="none" stroke="#fff" stroke-width="1.15"/>
<text transform="translate(803.26,210.3) scale(0.8505,1)" font-size="39.28" fill="#fff" stroke="#fe5722" stroke-width="1.8">C</text>
<path d="M896.9,136 V133.8 H899.1 M901.1,133.8 H903.3 V136 M903.3,138 V140.2 H901.1 M899.1,140.2 H896.9 V138" fill="none" stroke="#fff" stroke-width="1.31"/>
<rect x="539.1" y="340.1" width="186.8" height="2.4" fill="#d2d9dc" />
<rect x="539.1" y="340.1" width="186.8" height="1.3" fill="#bfc8cc" />
<rect x="539.1" y="229.8" width="186.8" height="110.3" fill="#fe5722" />
<text transform="translate(552.97,266.18) scale(0.9184,1)" font-size="23.35" fill="#fff" stroke="#fe5722" stroke-width="0.35">SCD30</text>
<text transform="translate(551.77,324.8) scale(0.9487,1)" font-size="50.32" fill="#fff" stroke="#fe5722" stroke-width="2.4">28</text>
<circle cx="622.1" cy="296.8" r="5.75" fill="none" stroke="#fff" stroke-width="1.3"/>
<text transform="translate(629.99,324.8) scale(0.8359,1)" font-size="50.32" fill="#fff" stroke="#fe5722" stroke-width="2.4">C</text>
<path d="M708.8,244.5 V242.3 H711 M713,242.3 H715.2 V244.5 M715.2,246.5 V248.7 H713 M711,248.7 H708.8 V246.5" fill="none" stroke="#fff" stroke-width="1.31"/>
<rect x="733.1" y="340.1" width="183.9" height="2.4" fill="#d2d9dc" />
<rect x="733.1" y="340.1" width="183.9" height="1.3" fill="#bfc8cc" />
<rect x="733.1" y="229.8" width="183.9" height="110.3" fill="#fe5722" />
<text transform="translate(747.83,266.18) scale(0.9395,1)" font-size="23.35" fill="#fff" stroke="#fe5722" stroke-width="0.35">Wind Sensor</text>
<text transform="translate(746.41,324.8) scale(0.9366,1)" font-size="50.32" fill="#fff" stroke="#fe5722" stroke-width="2.4">33</text>
<circle cx="816.1" cy="296.8" r="5.75" fill="none" stroke="#fff" stroke-width="1.3"/>
<text transform="translate(823.99,324.8) scale(0.8359,1)" font-size="50.32" fill="#fff" stroke="#fe5722" stroke-width="2.4">C</text>
<path d="M901.9,244.5 V242.3 H904.1 M906.1,242.3 H908.3 V244.5 M908.3,246.5 V248.7 H906.1 M904.1,248.7 H901.9 V246.5" fill="none" stroke="#fff" stroke-width="1.31"/>
<rect x="539.1" y="456" width="186.8" height="2.4" fill="#d2d9dc" />
<rect x="539.1" y="456" width="186.8" height="1.3" fill="#bfc8cc" />
<rect x="539.1" y="346" width="186.8" height="110" fill="#fe5722" />
<text transform="translate(553.45,382.38) scale(0.9346,1)" font-size="23.35" fill="#fff" stroke="#fe5722" stroke-width="0.35">T. Radiante</text>
<text transform="translate(551.83,441) scale(0.9343,1)" font-size="50.32" fill="#fff" stroke="#fe5722" stroke-width="2.4">24</text>
<circle cx="622.1" cy="413" r="5.75" fill="none" stroke="#fff" stroke-width="1.3"/>
<text transform="translate(629.99,441) scale(0.8359,1)" font-size="50.32" fill="#fff" stroke="#fe5722" stroke-width="2.4">C</text>
<path d="M708.8,360.7 V358.5 H711 M713,358.5 H715.2 V360.7 M715.2,362.7 V364.9 H713 M711,364.9 H708.8 V362.7" fill="none" stroke="#fff" stroke-width="1.31"/>
<rect x="733.1" y="456" width="183.9" height="2.4" fill="#d2d9dc" />
<rect x="733.1" y="456" width="183.9" height="1.3" fill="#bfc8cc" />
<rect x="733.1" y="346" width="183.9" height="110" fill="#fe5722" />
<text transform="translate(747.82,382.38) scale(0.9592,1)" font-size="23.35" fill="#fff" stroke="#fe5722" stroke-width="0.35">Vel. Viento</text>
<text transform="translate(745.96,441.5) scale(0.8848,1)" font-size="50.33" fill="#fff" stroke="#fe5722" stroke-width="2.4">NAN</text>
<path d="M901.9,360.7 V358.5 H904.1 M906.1,358.5 H908.3 V360.7 M908.3,362.7 V364.9 H906.1 M904.1,364.9 H901.9 V362.7" fill="none" stroke="#fff" stroke-width="1.31"/>
<rect x="539.1" y="571.5" width="186.8" height="2.4" fill="#d2d9dc" />
<rect x="539.1" y="571.5" width="186.8" height="1.3" fill="#bfc8cc" />
<rect x="539.1" y="462" width="186.8" height="109.5" fill="#fe5722" />
<text transform="translate(552.86,498.38) scale(0.9229,1)" font-size="23.35" fill="#fff" stroke="#fe5722" stroke-width="0.35">CO2</text>
<text transform="translate(552.93,553.5) scale(0.8940,1)" font-size="47.6" fill="#fff" stroke="#fe5722" stroke-width="2.4">513</text>
<text transform="translate(631.3,553.25) scale(0.9362,1)" font-size="47.77" fill="#fff" stroke="#fe5722" stroke-width="1.9">ppm</text>
<path d="M708.8,476.7 V474.5 H711 M713,474.5 H715.2 V476.7 M715.2,478.7 V480.9 H713 M711,480.9 H708.8 V478.7" fill="none" stroke="#fff" stroke-width="1.31"/>
<rect x="733.1" y="571.3" width="183.9" height="2.4" fill="#d2d9dc" />
<rect x="733.1" y="571.3" width="183.9" height="1.3" fill="#bfc8cc" />
<rect x="733.1" y="462.4" width="183.9" height="108.9" fill="#fe5722" />
<text transform="translate(746.13,498.77) scale(0.9358,1)" font-size="23.35" fill="#fff" stroke="#fe5722" stroke-width="0.35">HR</text>
<text transform="translate(747.52,556.5) scale(0.8959,1)" font-size="50.32" fill="#fff" stroke="#fe5722" stroke-width="2.4">50</text>
<text transform="translate(807.14,556.1) scale(0.7772,1)" font-size="49.18" fill="#fff" stroke="#fe5722" stroke-width="1.6">%</text>
<path d="M901.9,477.1 V474.9 H904.1 M906.1,474.9 H908.3 V477.1 M908.3,479.1 V481.3 H906.1 M904.1,481.3 H901.9 V479.1" fill="none" stroke="#fff" stroke-width="1.31"/>
<rect x="539.1" y="687.1" width="377.9" height="2.4" fill="#d2d9dc" />
<rect x="539.1" y="687.1" width="377.9" height="1.3" fill="#bfc8cc" />
<rect x="539.1" y="577.8" width="377.9" height="109.3" fill="#fe5722" />
<text transform="translate(551.81,614.17) scale(0.9796,1)" font-size="23.35" fill="#fff" stroke="#fe5722" stroke-width="0.35">Iluminancia</text>
<text transform="translate(551.73,672.4) scale(0.9340,1)" font-size="50.32" fill="#fff" stroke="#fe5722" stroke-width="2.4">25</text>
<text transform="translate(612.53,672.4) scale(0.8804,1)" font-size="50.76" fill="#fff" stroke="#fe5722" stroke-width="2.4">lx</text>
<path d="M901.9,591.3 V589.1 H904.1 M906.1,589.1 H908.3 V591.3 M908.3,593.3 V595.5 H906.1 M904.1,595.5 H901.9 V593.3" fill="none" stroke="#fff" stroke-width="1.31"/>
<rect x="539.1" y="693" width="377.9" height="265" fill="#fff" />
<text transform="translate(552.75,715.4) scale(1.0085,1)" font-size="9.89" fill="#2e2e2e" stroke="#2e2e2e" stroke-width="0.2">Sonido</text>
<circle cx="560.5" cy="728.1" r="5.7" fill="none" stroke="#3a3a3a" stroke-width="1.55"/>
<path d="M560.2,724.97 V728.4 L563.35,730.27" fill="none" stroke="#3a3a3a" stroke-width="1.32"/>
<text transform="translate(571.16,731.54) scale(0.8679,1)" font-size="9.86" fill="#3c3c3c" stroke="#3c3c3c" stroke-width="0.12">Tiempo-real - último(s) 2 horas</text>
<path d="M901.81,710.84 V708.61 H904.04 M906.06,708.61 H908.29 V710.84 M908.29,712.86 V715.09 H906.06 M904.04,715.09 H901.81 V712.86" fill="none" stroke="#2a2a2a" stroke-width="1.33"/>
<text transform="translate(551.63,751.7) scale(0.9665,1)" font-size="7.71" fill="#8c8c8c" >Timestamp</text>
<path d="M596.1,747.0 V753.0 M593.3,750.3 L596.1,753.2 L598.9,750.3" fill="none" stroke="#8c8c8c" stroke-width="0.8"/>
<text transform="translate(680.45,751.7) scale(0.8617,1)" font-size="7.71" fill="#8c8c8c" >RMS</text>
<text transform="translate(749.37,751.7) scale(1.0044,1)" font-size="7.71" fill="#8c8c8c" >dBmin</text>
<text transform="translate(827.69,751.7) scale(0.9419,1)" font-size="7.71" fill="#8c8c8c" >dBmax</text>
<line x1="544.5" y1="761.4" x2="914.2" y2="761.4" stroke="#e9e9e9" stroke-width="1" />
<line x1="544.5" y1="784.9" x2="914.2" y2="784.9" stroke="#e9e9e9" stroke-width="1" />
<line x1="544.5" y1="808.6" x2="914.2" y2="808.6" stroke="#e9e9e9" stroke-width="1" />
<line x1="544.5" y1="832.1" x2="914.2" y2="832.1" stroke="#e9e9e9" stroke-width="1" />
<text transform="translate(551.11,776.6) scale(0.9175,1)" font-size="8.58" fill="#333" >2025-07-01 20:16:04</text>
<text transform="translate(680.62,776.6) scale(0.9370,1)" font-size="8.58" fill="#333" >90.58</text>
<text transform="translate(749.58,776.6) scale(0.9624,1)" font-size="8.58" fill="#333" >110.12</text>
<text transform="translate(827.88,776.6) scale(0.9671,1)" font-size="8.58" fill="#333" >111.84</text>
<text transform="translate(551.11,800.2) scale(0.9190,1)" font-size="8.58" fill="#333" >2025-07-01 19:28:03</text>
<text transform="translate(680.62,800.2) scale(0.9370,1)" font-size="8.58" fill="#333" >90.58</text>
<text transform="translate(749.58,800.2) scale(0.9624,1)" font-size="8.58" fill="#333" >110.12</text>
<text transform="translate(827.88,800.2) scale(0.9671,1)" font-size="8.58" fill="#333" >111.84</text>
<text transform="translate(551.11,823.8) scale(0.9175,1)" font-size="8.58" fill="#333" >2025-07-01 18:44:04</text>
<text transform="translate(680.62,823.8) scale(0.9370,1)" font-size="8.58" fill="#333" >90.58</text>
<text transform="translate(749.58,823.8) scale(0.9624,1)" font-size="8.58" fill="#333" >110.12</text>
<text transform="translate(827.88,823.8) scale(0.9671,1)" font-size="8.58" fill="#333" >111.84</text>
<rect x="0" y="0" width="919" height="2" fill="#bbbbbb" />
<rect x="0" y="958" width="919" height="2" fill="#bbbbbb" />
<rect x="0" y="0" width="2" height="960" fill="#bbbbbb" />
<rect x="917" y="0" width="2" height="960" fill="#bbbbbb" />
</svg>
</body></html>
